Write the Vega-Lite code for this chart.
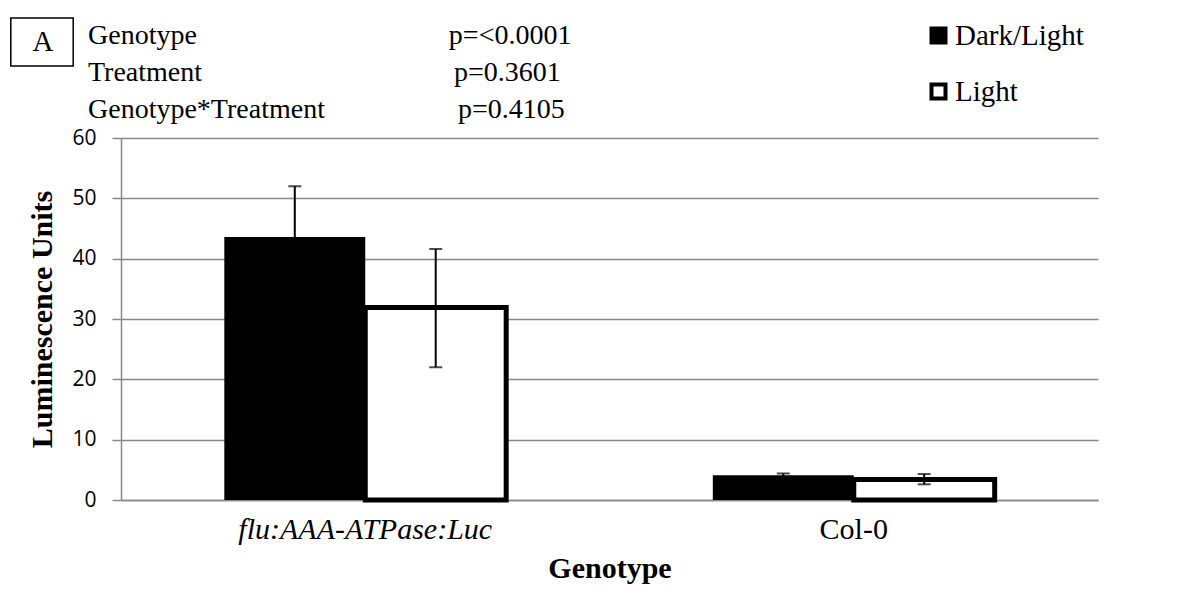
{
  "$schema": "https://vega.github.io/schema/vega-lite/v6.json",
  "width": 977,
  "height": 362,
  "autosize": {"type": "none"},
  "padding": {"left": 121, "top": 138, "right": 101, "bottom": 95},
  "background": "white",
  "config": {"view": {"stroke": null}},
  "title": {
    "text": [
      "Genotype\u00a0\u00a0\u00a0\u00a0\u00a0\u00a0\u00a0\u00a0\u00a0\u00a0\u00a0\u00a0\u00a0\u00a0\u00a0\u00a0\u00a0\u00a0\u00a0\u00a0\u00a0\u00a0\u00a0\u00a0\u00a0\u00a0\u00a0\u00a0\u00a0\u00a0\u00a0\u00a0\u00a0\u00a0\u00a0\u00a0p=<0.0001",
      "Treatment\u00a0\u00a0\u00a0\u00a0\u00a0\u00a0\u00a0\u00a0\u00a0\u00a0\u00a0\u00a0\u00a0\u00a0\u00a0\u00a0\u00a0\u00a0\u00a0\u00a0\u00a0\u00a0\u00a0\u00a0\u00a0\u00a0\u00a0\u00a0\u00a0\u00a0\u00a0\u00a0\u00a0\u00a0\u00a0\u00a0p=0.3601",
      "Genotype*Treatment\u00a0\u00a0\u00a0\u00a0\u00a0\u00a0\u00a0\u00a0\u00a0\u00a0\u00a0\u00a0\u00a0\u00a0\u00a0\u00a0\u00a0\u00a0\u00a0p=0.4105"
    ],
    "anchor": "start",
    "frame": "group",
    "dx": -33,
    "dy": 109,
    "offset": 2,
    "font": "Liberation Serif",
    "fontSize": 28,
    "fontWeight": "normal",
    "lineHeight": 37,
    "color": "black"
  },
  "data": {
    "values": [
      {"genotype": "flu:AAA-ATPase:Luc", "treatment": "Dark/Light", "mean": 43.6, "lower": 35.2, "upper": 52.0},
      {"genotype": "flu:AAA-ATPase:Luc", "treatment": "Light", "mean": 31.9, "lower": 22.0, "upper": 41.6},
      {"genotype": "Col-0", "treatment": "Dark/Light", "mean": 4.1, "lower": 3.8, "upper": 4.4},
      {"genotype": "Col-0", "treatment": "Light", "mean": 3.4, "lower": 2.6, "upper": 4.3}
    ]
  },
  "encoding": {
    "x": {
      "field": "genotype",
      "type": "nominal",
      "sort": ["flu:AAA-ATPase:Luc", "Col-0"],
      "scale": {"paddingInner": 0.423, "paddingOuter": 0.2115},
      "axis": {
        "title": "Genotype",
        "titleFont": "Liberation Serif",
        "titleFontSize": 30,
        "titleFontWeight": "bold",
        "titleColor": "black",
        "titlePadding": 9,
        "labelAngle": 0,
        "labelFont": {"condition": {"test": "datum.value === 'flu:AAA-ATPase:Luc'", "value": "Liberation Serif, DejaVu Serif, serif"}, "value": "Liberation Serif"},
        "labelFontSize": 30,
        "labelColor": "black",
        "labelLimit": 500,
        "labelFontStyle": {"condition": {"test": "datum.value === 'flu:AAA-ATPase:Luc'", "value": "italic"}, "value": "normal"},
        "labelPadding": 14,
        "ticks": false,
        "domainColor": "#888888",
        "domainWidth": 1.5,
        "grid": false
      }
    },
    "xOffset": {
      "field": "treatment",
      "type": "nominal",
      "sort": ["Dark/Light", "Light"],
      "scale": {"paddingInner": 0, "paddingOuter": 0}
    }
  },
  "layer": [
    {
      "mark": {"type": "bar", "stroke": "black"},
      "encoding": {
        "y": {
          "field": "mean",
          "type": "quantitative",
          "scale": {"domain": [0, 60], "nice": false},
          "axis": {
            "title": "Luminescence Units",
            "titleFont": "Liberation Serif",
            "titleFontSize": 30,
            "titleFontWeight": "bold",
            "titleColor": "black",
            "titlePadding": 14,
            "values": [0, 10, 20, 30, 40, 50, 60],
            "labelFont": "Open Sans",
            "labelFontSize": 21,
            "labelColor": "black",
            "labelPadding": 16,
            "tickSize": 9,
            "tickColor": "#888888",
            "tickWidth": 1.5,
            "domainColor": "#888888",
            "domainWidth": 1.5,
            "grid": true,
            "gridColor": "#888888",
            "gridWidth": 1.5
          }
        },
        "fill": {
          "field": "treatment",
          "type": "nominal",
          "scale": {"domain": ["Dark/Light", "Light"], "range": ["#000000", "#ffffff"]},
          "legend": {
            "title": null,
            "orient": "none",
            "legendX": 803,
            "legendY": -117,
            "padding": 0,
            "labelFont": "Liberation Serif",
            "labelFontSize": 29,
            "labelColor": "black",
            "labelOffset": 2,
            "symbolType": "square",
            "symbolSize": 196,
            "symbolStrokeColor": "black",
            "symbolStrokeWidth": 4,
            "rowPadding": 25
          }
        },
        "strokeWidth": {"condition": {"test": "datum.treatment === 'Light'", "value": 5}, "value": 0}
      }
    },
    {
      "mark": {"type": "rule", "color": "black", "strokeWidth": 2},
      "encoding": {
        "y": {"field": "lower", "type": "quantitative"},
        "y2": {"field": "upper"},
        "strokeDash": {
          "datum": "A",
          "type": "nominal",
          "scale": {"domain": ["A"], "range": [[1, 0]]},
          "legend": {
            "title": null,
            "orient": "none",
            "legendX": -104,
            "legendY": -121,
            "padding": 0,
            "symbolType": "M-1.3,-1H1.3V1H-1.3Z",
            "symbolSize": 2304,
            "symbolFillColor": "transparent",
            "symbolStrokeColor": "black",
            "symbolStrokeWidth": 1.5,
            "labelFont": "Liberation Serif",
            "labelFontSize": 29,
            "labelColor": "black",
            "labelAlign": "center",
            "labelOffset": -24
          }
        }
      }
    },
    {
      "mark": {"type": "tick", "color": "black", "thickness": 2, "size": 13},
      "encoding": {"y": {"field": "upper", "type": "quantitative"}}
    },
    {
      "mark": {"type": "tick", "color": "black", "thickness": 2, "size": 13},
      "encoding": {"y": {"field": "lower", "type": "quantitative"}}
    }
  ]
}
